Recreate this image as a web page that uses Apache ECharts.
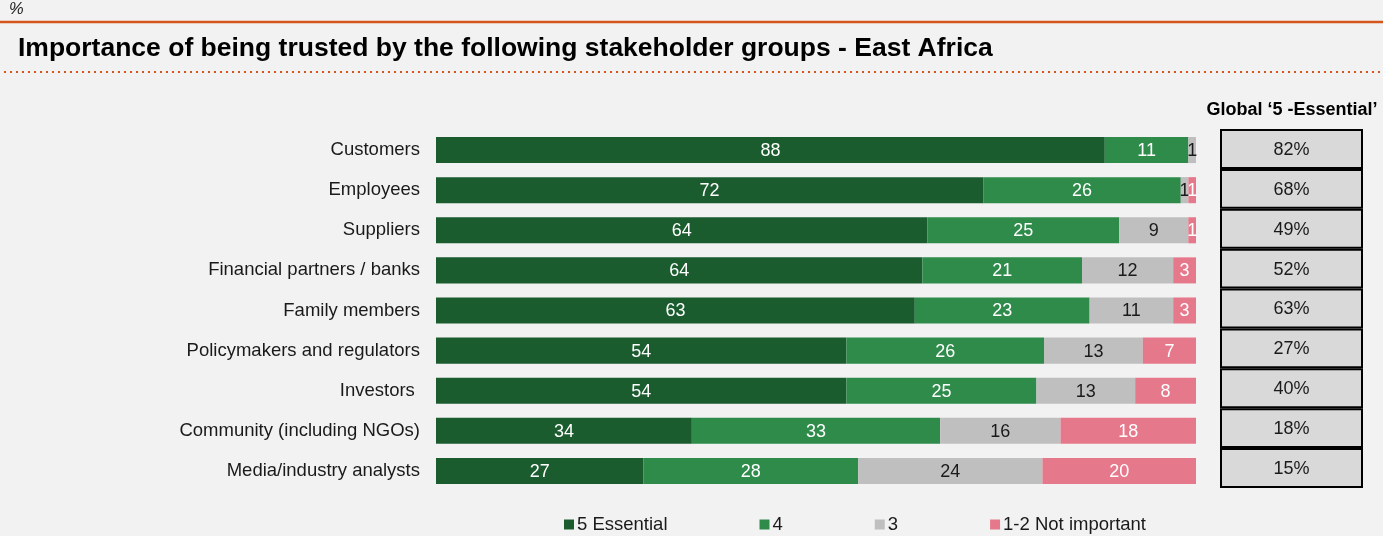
<!DOCTYPE html>
<html>
<head>
<meta charset="utf-8">
<script src="https://cdn.jsdelivr.net/npm/echarts@6/dist/echarts.min.js"></script>
<style>
  html, body { margin: 0; padding: 0; background: #f2f2f2; }
  #chart { width: 1383px; height: 536px; }
</style>
</head>
<body>
<div id="chart"></div>
<script>
// Stakeholder groups, top to bottom
const categories = [
  'Customers', 'Employees', 'Suppliers', 'Financial partners / banks',
  'Family members', 'Policymakers and regulators', 'Investors ',
  'Community (including NGOs)', 'Media/industry analysts'
];
// Share of respondents per rating (%)
const essential5 = [88, 72, 64, 64, 63, 54, 54, 34, 27];
const rating4 = [11, 26, 25, 21, 23, 26, 25, 33, 28];
const rating3 = [1, 1, 9, 12, 11, 13, 13, 16, 24];
const notImportant = [0, 1, 1, 3, 3, 7, 8, 18, 20];
// Global "5 - Essential" benchmark (%)
const globalEssential = [82, 68, 49, 52, 63, 27, 40, 18, 15];

const seriesNames = ['5 Essential', '4', '3', '1-2 Not important'];
const seriesColors = ['#1a5c2e', '#2e8b4a', '#bfbfbf', '#e6788b'];
const labelColors = ['#ffffff', '#ffffff', '#1a1a1a', '#ffffff'];
const rawSeries = [essential5, rating4, rating3, notImportant];

// Each bar fills the full width: segments are scaled to the row total
const rowTotals = categories.map((_, i) => rawSeries.reduce((s, arr) => s + arr[i], 0));

const FONT = 'Liberation Sans, Arial, sans-serif';
const chart = echarts.init(document.getElementById('chart'));

const stackSeries = rawSeries.map((arr, k) => ({
  name: seriesNames[k],
  type: 'bar',
  stack: 'total',
  xAxisIndex: 0,
  yAxisIndex: 0,
  barCategoryGap: '35%',
  itemStyle: { color: seriesColors[k] },
  data: arr.map((v, i) => ({ value: v / rowTotals[i] * 100, raw: v })),
  label: {
    show: true,
    position: 'inside',
    offset: [0, 1],
    fontFamily: FONT,
    fontSize: 18,
    color: labelColors[k],
    formatter: p => (p.data.raw > 0 ? String(p.data.raw) : '')
  },
  emphasis: { disabled: true }
}));

const option = {
  backgroundColor: '#f2f2f2',
  animation: false,
  textStyle: { fontFamily: FONT },
  title: [
    {
      text: '%',
      left: 9, top: 1, padding: 0,
      textStyle: { fontFamily: FONT, fontSize: 16.5, fontStyle: 'italic', fontWeight: 'normal', color: '#1a1a1a' }
    },
    {
      text: 'Importance of being trusted by the following stakeholder groups - East Africa',
      left: 18, top: 35, padding: 0,
      textStyle: { fontFamily: FONT, fontSize: 26.5, fontWeight: 'bold', color: '#000' }
    },
    {
      text: 'Global \u20185 -Essential\u2019',
      left: 1292, top: 101, padding: 0, textAlign: 'center',
      textStyle: { fontFamily: FONT, fontSize: 18, fontWeight: 'bold', color: '#000' }
    }
  ],
  graphic: [
    { type: 'line', shape: { x1: 0, y1: 22, x2: 1383, y2: 22 }, style: { stroke: '#d4561c', lineWidth: 2.5 } },
    { type: 'line', shape: { x1: 4, y1: 72, x2: 1383, y2: 72 }, style: { stroke: '#d4561c', lineWidth: 2, lineDash: [2, 4] } }
  ],
  legend: {
    data: seriesNames,
    top: 515,
    left: 564,
    padding: 0,
    itemWidth: 10,
    itemHeight: 10,
    itemGap: 92,
    icon: 'rect',
    selectedMode: false,
    textStyle: { fontFamily: FONT, fontSize: 18.5, color: '#1a1a1a', padding: [0, 0, 0, -2] }
  },
  grid: [
    { left: 436, right: 187, top: 130, height: 361 },
    { left: 1220, width: 143, top: 129, height: 359 }
  ],
  xAxis: [
    { type: 'value', gridIndex: 0, min: 0, max: 100, show: false },
    { type: 'value', gridIndex: 1, min: 0, max: 1, show: false }
  ],
  yAxis: [
    {
      type: 'category', gridIndex: 0, data: categories, inverse: true,
      axisLine: { show: false }, axisTick: { show: false },
      axisLabel: { fontFamily: FONT, fontSize: 18.5, color: '#1a1a1a', margin: 16 }
    },
    {
      type: 'category', gridIndex: 1, data: categories, inverse: true, show: false
    }
  ],
  series: [
    ...stackSeries,
    {
      name: 'Global',
      type: 'bar',
      xAxisIndex: 1,
      yAxisIndex: 1,
      barCategoryGap: 0,
      data: globalEssential.map(v => ({ value: 1, raw: v })),
      itemStyle: { color: '#d9d9d9', borderColor: '#000', borderWidth: 2 },
      label: {
        show: true, position: 'inside',
        offset: [0, 1],
        fontFamily: FONT, fontSize: 18, color: '#1a1a1a',
        formatter: p => p.data.raw + '%'
      },
      emphasis: { disabled: true }
    }
  ]
};

chart.setOption(option);
</script>
</body>
</html>
